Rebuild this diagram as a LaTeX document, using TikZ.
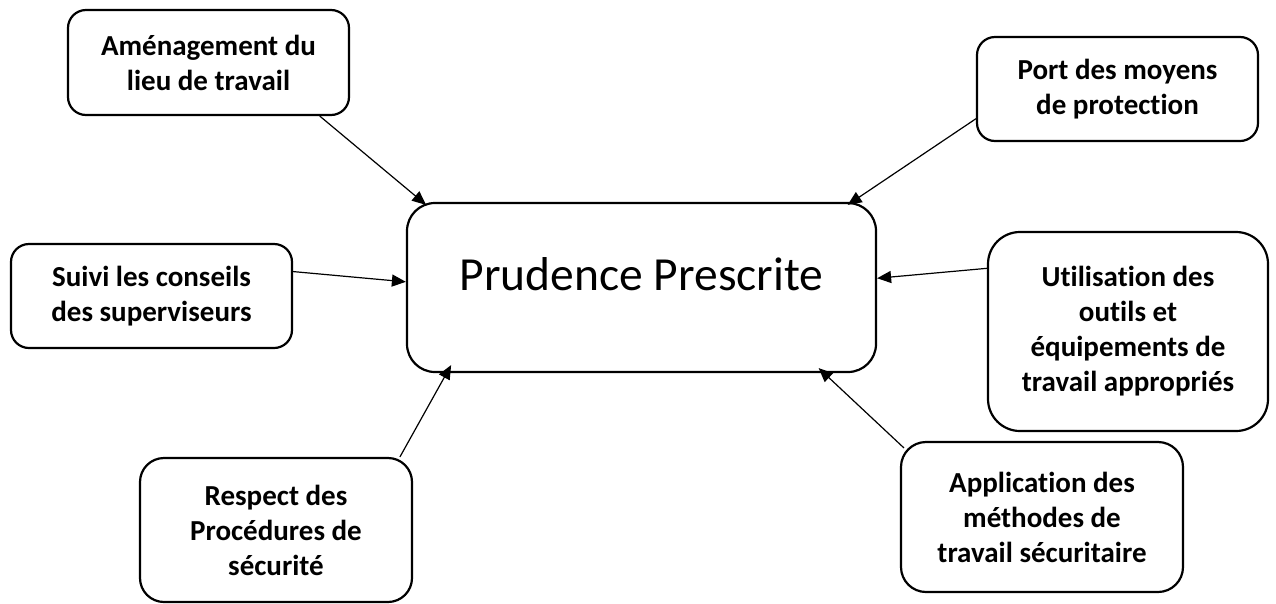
\documentclass[tikz,border=0pt]{standalone}
\usepackage{fontspec}
\setmainfont{Carlito}[Ligatures={NoCommon,NoRare,NoContextual}]
\usetikzlibrary{arrows.meta,calc}
\tikzset{
  box/.style={draw=black, line width=2.2pt, rounded corners=#1, align=center,
    inner sep=0pt, font=\bfseries\fontsize{29}{35}\selectfont},
  box/.default=18pt,
  conn/.style={line width=1.2pt, -{Triangle[length=14pt,width=12pt]}},
}
\begin{document}
\begin{tikzpicture}[x=1pt,y=-1pt]
\useasboundingbox (0,0) rectangle (1276,603);

\node[box, minimum width=281pt, minimum height=105pt] (b1) at (208.5,62.5)
  {Aménagement du\\lieu de travail};
\node[box, minimum width=281pt, minimum height=104pt] (b2) at (1117.5,89)
  {Port des moyens\\de protection};
\node[box, minimum width=281pt, minimum height=104pt] (b3) at (151.5,296)
  {Suivi les conseils\\des superviseurs};
\node[box=28pt, minimum width=469pt, minimum height=169pt,
  font=\fontsize{47.5}{57}\selectfont, text height=20pt, text depth=15pt] (c) at (641.5,287.5)
  {Prudence Prescrite};
\node[box=32pt, minimum width=280pt, minimum height=199pt] (b5) at (1128,331.5)
  {Utilisation des\\outils et\\équipements de\\travail appropriés};
\node[box=24pt, minimum width=272pt, minimum height=144pt] (b6) at (276,530)
  {Respect des\\Procédures de\\sécurité};
\node[box=25pt, minimum width=282pt, minimum height=150pt] (b7) at (1042,517)
  {Application des\\méthodes de\\travail sécuritaire};

\draw[conn] ($(b1.south west)!0.893!(b1.south east)$) -- ($(c.north west)!0.043!(c.north east)+(0,3)$);
\draw[conn] ($(b2.north west)!0.78!(b2.south west)$) -- ($(c.north west)!0.9375!(c.north east)+(0,3)$);
\draw[conn] ($(b3.north east)!0.27!(b3.south east)$) -- ($(c.north west)!0.467!(c.south west)$);
\draw[conn] ($(b5.north west)!0.186!(b5.south west)$) -- ($(c.north east)!0.446!(c.south east)$);
\draw[conn] ($(b6.north west)!0.952!(b6.north east)$) -- ($(c.south west)!0.096!(c.south east)+(0,-8)$);
\draw[conn] ($(b7.north west)+(4,7)$) -- ($(c.south west)!0.876!(c.south east)+(0,-5)$);
\end{tikzpicture}
\end{document}
